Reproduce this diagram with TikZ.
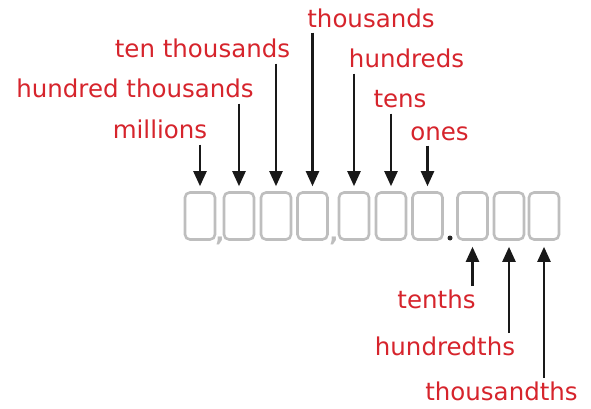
\documentclass[tikz,border=0pt]{standalone}
\usepackage{fontspec}
\setmainfont{DejaVu Sans}
\usetikzlibrary{arrows.meta}
\definecolor{lblred}{RGB}{214,36,44}
\definecolor{boxgray}{RGB}{190,190,190}
\begin{document}
\begin{tikzpicture}[x=1pt,y=-1pt,
  digit/.style={draw=boxgray,line width=2.6pt,rounded corners=5pt,minimum width=30pt,minimum height=47pt,inner sep=0pt},
  lbl/.style={text=lblred,inner sep=0pt,font=\fontsize{24.5}{29}\selectfont},
  arr/.style={draw=black!90,line width=2.3pt,-{Triangle[width=13pt,length=15pt]}}]
\useasboundingbox (0,0) rectangle (591,409);
% boxes
\node[digit] (b1) at (200,216) {};
\node[digit] (b2) at (239,216) {};
\node[digit] (b3) at (276,216) {};
\node[digit] (b4) at (312.5,216) {};
\node[digit] (b5) at (354,216) {};
\node[digit] (b6) at (391,216) {};
\node[digit] (b7) at (427.5,216) {};
\node[digit] (b8) at (472.5,216) {};
\node[digit] (b9) at (509,216) {};
\node[digit] (b10) at (544,216) {};
% separators
\node[text=boxgray,inner sep=0pt,font=\bfseries\fontsize{24}{26}\selectfont,anchor=base] (c1) at (220,241) {,};
\node[text=boxgray,inner sep=0pt,font=\bfseries\fontsize{24}{26}\selectfont,anchor=base] (c2) at (334,241) {,};
\node[fill=black!85,circle,inner sep=0pt,minimum size=5pt] (dp) at (450,238) {};
% labels
\node[lbl,anchor=base] (thousands) at (371,28) {thousands};
\node[lbl,anchor=base] (tenthousands) at (202.5,58) {ten thousands};
\node[lbl,anchor=base] (hundreds) at (406.5,68) {hundreds};
\node[lbl,anchor=base] (hundredthousands) at (135,98) {hundred thousands};
\node[lbl,anchor=base] (tens) at (400,108) {tens};
\node[lbl,anchor=base] (millions) at (160,138) {millions};
\node[lbl,anchor=base] (ones) at (439.5,140) {ones};
\node[lbl,anchor=base] (tenths) at (436.5,308) {tenths};
\node[lbl,anchor=base] (hundredths) at (445,355) {hundredths};
\node[lbl,anchor=base] (thousandths) at (501.5,400) {thousandths};
% arrows down
\draw[arr] ([yshift=-6pt]millions.south -| b1.north) -- ([yshift=5pt]b1.north);
\draw[arr] ([yshift=-5pt]hundredthousands.south -| b2.north) -- ([yshift=5pt]b2.north);
\draw[arr] ([yshift=-5pt]tenthousands.south -| b3.north) -- ([yshift=5pt]b3.north);
\draw[arr] ([yshift=-4pt]thousands.south -| b4.north) -- ([yshift=5pt]b4.north);
\draw[arr] ([yshift=-5pt]hundreds.south -| b5.north) -- ([yshift=5pt]b5.north);
\draw[arr] ([yshift=-5pt]tens.south -| b6.north) -- ([yshift=5pt]b6.north);
\draw[arr] ([yshift=-5pt]ones.south -| b7.north) -- ([yshift=5pt]b7.north);
% arrows up
\draw[arr] ([yshift=3pt]tenths.north -| b8.south) -- ([yshift=-6pt]b8.south);
\draw[arr] ([yshift=3pt]hundredths.north -| b9.south) -- ([yshift=-6pt]b9.south);
\draw[arr] ([yshift=3pt]thousandths.north -| b10.south) -- ([yshift=-6pt]b10.south);
\end{tikzpicture}
\end{document}
